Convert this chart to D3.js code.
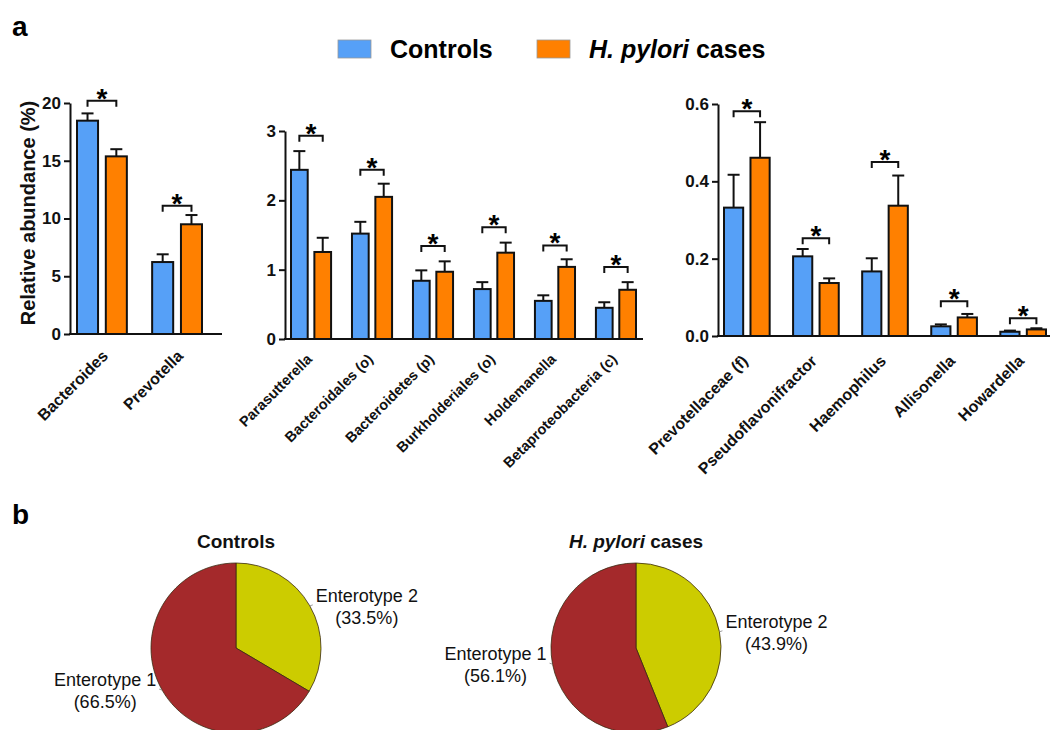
<!DOCTYPE html>
<html>
<head>
<meta charset="utf-8">
<script src="https://cdn.jsdelivr.net/npm/d3@7"></script>
<style>
  html, body { margin: 0; padding: 0; background: #fff; }
  svg { display: block; font-family: "Liberation Sans", Arial, sans-serif; }
</style>
</head>
<body>
<svg id="fig" width="1058" height="730"></svg>
<script>
// ---- Panel a: relative abundance (mean + SEM) ----
const seriesNames = ["Controls", "H. pylori cases"];
const seriesColors = ["#56a0f7", "#ff8000"];

const genusCats = ["Bacteroides", "Prevotella"];
const genusControls = [18.47, 6.23];
const genusControlsSem = [0.63, 0.67];
const genusCases = [15.38, 9.5];
const genusCasesSem = [0.62, 0.8];
const genusBracket = [20.2, 11.1];
const genusTicks = [0, 5, 10, 15, 20];

const midCats = ["Parasutterella", "Bacteroidales (o)", "Bacteroidetes (p)", "Burkholderiales (o)", "Holdemanella", "Betaproteobacteria (c)"];
const midControls = [2.44, 1.52, 0.84, 0.72, 0.55, 0.45];
const midControlsSem = [0.27, 0.17, 0.15, 0.10, 0.08, 0.08];
const midCases = [1.255, 2.05, 0.97, 1.245, 1.04, 0.71];
const midCasesSem = [0.205, 0.19, 0.15, 0.145, 0.11, 0.11];
const midBracket = [2.93, 2.44, 1.34, 1.61, 1.35, 1.04];
const midTicks = [0, 1, 2, 3];

const lowCats = ["Prevotellaceae (f)", "Pseudoflavonifractor", "Haemophilus", "Allisonella", "Howardella"];
const lowControls = [0.332, 0.206, 0.167, 0.025, 0.011];
const lowControlsSem = [0.085, 0.019, 0.034, 0.005, 0.003];
const lowCases = [0.461, 0.137, 0.337, 0.048, 0.017];
const lowCasesSem = [0.092, 0.012, 0.078, 0.009, 0.003];
const lowBracket = [0.581, 0.253, 0.45, 0.090, 0.046];
const lowTicks = [0, 0.2, 0.4, 0.6];

// ---- Panel b: enterotype distribution ----
const enterotypeNames = ["Enterotype 2", "Enterotype 1"];
const enterotypeColors = ["#cccc00", "#a4292b"];
const pieGroups = ["Controls", "H. pylori cases"];
const controlsShares = [33.5, 66.5];
const casesShares = [43.9, 56.1];

const svg = d3.select("#fig");

// panel letters
svg.append("text").attr("x", 12).attr("y", 36).attr("font-size", 28).attr("font-weight", "bold").text("a");
svg.append("text").attr("x", 12).attr("y", 524).attr("font-size", 28).attr("font-weight", "bold").text("b");

// legend
const legend = svg.append("g");
[[338, 390], [537, 589]].forEach(([rx, tx], i) => {
  legend.append("rect").attr("x", rx).attr("y", 40).attr("width", 33).attr("height", 18)
    .attr("fill", seriesColors[i]).attr("stroke", "#9a9a9a").attr("stroke-width", 0.8);
  const t = legend.append("text").attr("x", tx).attr("y", 58).attr("font-size", 25).attr("font-weight", "bold");
  if (i === 0) t.text(seriesNames[0]);
  else {
    t.append("tspan").attr("font-style", "italic").text("H. pylori");
    t.append("tspan").text(" cases");
  }
});

function barPanel(cfg) {
  const g = svg.append("g");
  const y = d3.scaleLinear().domain(cfg.domain).range([cfg.y0, cfg.y1]);
  const x = d3.scaleBand().domain(cfg.cats).range([cfg.gx0, cfg.gx1]).paddingInner(0.31).paddingOuter(0);
  const xi = d3.scaleBand().domain([0, 1]).range([0, x.bandwidth()]).paddingInner(0.2);

  const rows = cfg.cats.map((c, i) => ({
    cat: c,
    vals: [cfg.controls[i], cfg.cases[i]],
    sem: [cfg.controlsSem[i], cfg.casesSem[i]],
    bracket: cfg.bracket[i]
  }));

  // error bars (upper whisker only)
  rows.forEach(r => {
    [0, 1].forEach(s => {
      const cx = x(r.cat) + xi(s) + xi.bandwidth() / 2;
      g.append("line").attr("x1", cx).attr("x2", cx)
        .attr("y1", y(r.vals[s])).attr("y2", y(r.vals[s] + r.sem[s]))
        .attr("stroke", "#111").attr("stroke-width", 2);
      g.append("line").attr("x1", cx - 6).attr("x2", cx + 6)
        .attr("y1", y(r.vals[s] + r.sem[s])).attr("y2", y(r.vals[s] + r.sem[s]))
        .attr("stroke", "#111").attr("stroke-width", 2);
    });
  });

  // bars
  rows.forEach(r => {
    [0, 1].forEach(s => {
      g.append("rect")
        .attr("x", x(r.cat) + xi(s) + 1)
        .attr("width", xi.bandwidth() - 2)
        .attr("y", y(r.vals[s]))
        .attr("height", y(0) - y(r.vals[s]))
        .attr("fill", seriesColors[s]).attr("stroke", "#111").attr("stroke-width", 2);
    });
  });

  // significance brackets
  rows.forEach(r => {
    const xa = x(r.cat) + xi(0) + xi.bandwidth() / 2;
    const xb = x(r.cat) + xi(1) + xi.bandwidth() / 2;
    const yb = y(r.bracket);
    g.append("path").attr("d", `M${xa},${yb + 6}V${yb}H${xb}V${yb + 6}`)
      .attr("fill", "none").attr("stroke", "#111").attr("stroke-width", 2);
    g.append("text").attr("x", (xa + xb) / 2).attr("y", yb + 7)
      .attr("text-anchor", "middle").attr("font-size", 28).attr("font-weight", "bold").text("*");
  });

  // y axis
  const ax = g.append("g").attr("transform", `translate(${cfg.ax},0)`)
    .call(d3.axisLeft(y).tickValues(cfg.ticks).tickFormat(cfg.fmt).tickSize(6).tickSizeOuter(0).tickPadding(3));
  ax.select(".domain").attr("stroke", "#111").attr("stroke-width", 2);
  ax.selectAll(".tick line").attr("stroke", "#111").attr("stroke-width", 2);
  ax.selectAll(".tick text").attr("font-size", 17).attr("font-weight", "bold")
    .attr("fill", "#111").attr("font-family", "Liberation Sans, Arial, sans-serif");

  // x axis baseline
  g.append("line").attr("x1", cfg.ax - 1).attr("x2", cfg.axEnd).attr("y1", y(0)).attr("y2", y(0))
    .attr("stroke", "#111").attr("stroke-width", 2);

  // category labels
  rows.forEach(r => {
    const cx = x(r.cat) + x.bandwidth() / 2 + cfg.labDx;
    const cy = y(0) + cfg.labDy;
    g.append("text").attr("transform", `translate(${cx},${cy}) rotate(-45)`)
      .attr("text-anchor", "end").attr("font-size", cfg.labSize).attr("font-weight", "bold")
      .attr("fill", "#111").text(r.cat);
  });
  return g;
}

barPanel({
  cats: genusCats, controls: genusControls, controlsSem: genusControlsSem,
  cases: genusCases, casesSem: genusCasesSem, bracket: genusBracket,
  domain: [0, 20], y0: 334, y1: 103, ticks: genusTicks, fmt: d3.format("d"),
  gx0: 76, gx1: 203, ax: 70, axEnd: 222, labSize: 16, labDx: 7, labDy: 23
});
barPanel({
  cats: midCats, controls: midControls, controlsSem: midControlsSem,
  cases: midCases, casesSem: midCasesSem, bracket: midBracket,
  domain: [0, 3], y0: 339, y1: 131, ticks: midTicks, fmt: d3.format("d"),
  gx0: 290, gx1: 637, ax: 285, axEnd: 643, labSize: 14.5, labDx: 2, labDy: 21
});
barPanel({
  cats: lowCats, controls: lowControls, controlsSem: lowControlsSem,
  cases: lowCases, casesSem: lowCasesSem, bracket: lowBracket,
  domain: [0, 0.6], y0: 336, y1: 104, ticks: lowTicks, fmt: d3.format(".1f"),
  gx0: 723, gx1: 1047, ax: 718, axEnd: 1050, labSize: 16, labDx: 2, labDy: 26
});

// y axis title
svg.append("text").attr("transform", "translate(35,213) rotate(-90)")
  .attr("text-anchor", "middle").attr("font-size", 20).attr("font-weight", "bold")
  .attr("fill", "#111").text("Relative abundance (%)");

// ---- pies ----
const pie = d3.pie().sort(null).value(d => d);
const radius = 85;
const arc = d3.arc().innerRadius(0).outerRadius(radius);

[[236, controlsShares], [636, casesShares]].forEach(([cx, shares], gi) => {
  const g = svg.append("g").attr("transform", `translate(${cx},648)`);
  const arcs = pie(shares);
  g.selectAll("path").data(arcs).join("path")
    .attr("d", arc).attr("fill", (d, i) => enterotypeColors[i])
    .attr("stroke", "#3a2a10").attr("stroke-width", 0.8);

  // title
  const t = svg.append("text").attr("x", cx).attr("y", 548).attr("text-anchor", "middle")
    .attr("font-size", 19).attr("font-weight", "bold").attr("fill", "#111");
  if (gi === 0) t.text(pieGroups[0]);
  else {
    t.append("tspan").attr("font-style", "italic").text("H. pylori");
    t.append("tspan").text(" cases");
  }

  // slice labels at each slice's mid angle
  arcs.forEach((a, i) => {
    const mid = (a.startAngle + a.endAngle) / 2;
    const px = Math.sin(mid) * radius, py = -Math.cos(mid) * radius;
    const side = px >= 0 ? 1 : -1;
    g.append("line").attr("x1", px).attr("y1", py).attr("x2", px + side * 3).attr("y2", py - 1)
      .attr("stroke", "#888").attr("stroke-width", 0.8);
    const lab = g.append("text").attr("font-size", 18).attr("fill", "#111").attr("text-anchor", "middle");
    const l1 = lab.append("tspan").text(enterotypeNames[i]);
    const w = l1.node().getComputedTextLength();
    const tx = px + side * (6 + w / 2);
    l1.attr("x", tx).attr("y", py - 4);
    lab.append("tspan").attr("x", tx).attr("y", py + 18).text(`(${shares[i].toFixed(1)}%)`);
  });
});
</script>
</body>
</html>
